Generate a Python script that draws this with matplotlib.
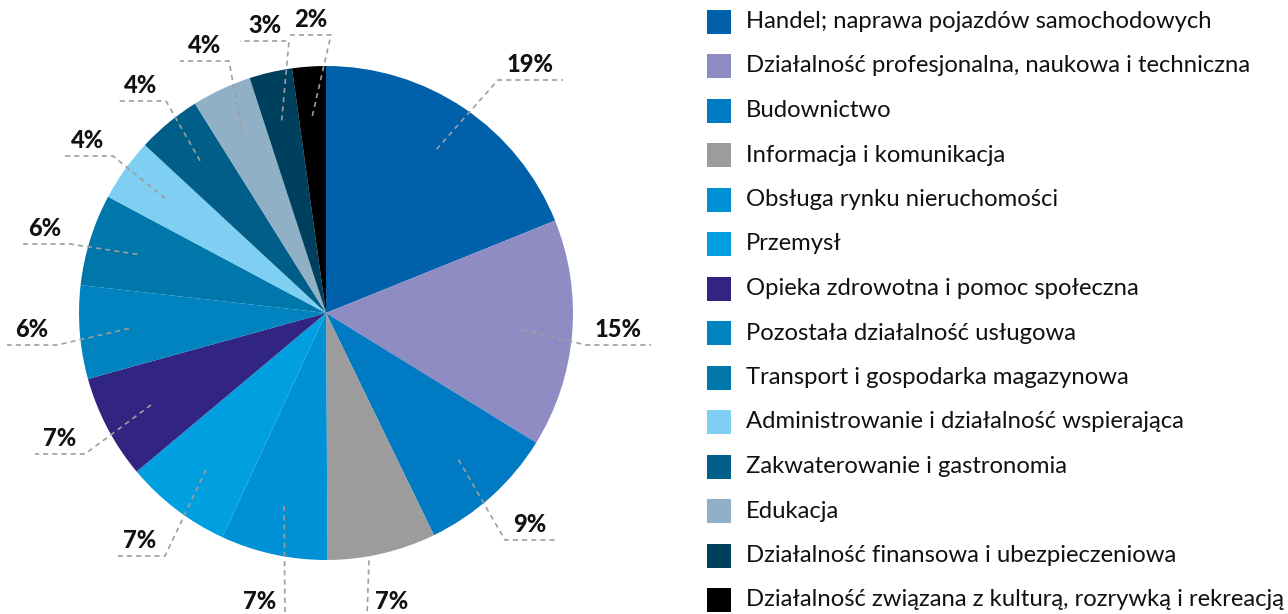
import matplotlib.pyplot as plt
from matplotlib.patches import Rectangle
import numpy as np

W, H = 1288, 614

sectors = [
    'Handel; naprawa pojazdów samochodowych',
    'Działalność profesjonalna, naukowa i techniczna',
    'Budownictwo',
    'Informacja i komunikacja',
    'Obsługa rynku nieruchomości',
    'Przemysł',
    'Opieka zdrowotna i pomoc społeczna',
    'Pozostała działalność usługowa',
    'Transport i gospodarka magazynowa',
    'Administrowanie i działalność wspierająca',
    'Zakwaterowanie i gastronomia',
    'Edukacja',
    'Działalność finansowa i ubezpieczeniowa',
    'Działalność związana z kulturą, rozrywką i rekreacją',
]
shares = [18.9, 14.9, 9.0, 7.1, 7.0, 7.0, 6.8, 6.1, 6.0, 4.1, 4.2, 3.9, 2.8, 2.2]
pct_labels = ['19%', '15%', '9%', '7%', '7%', '7%', '7%', '6%', '6%', '4%', '4%', '4%', '3%', '2%']

colors = ['#0060aa', '#8f8cc4', '#007ac2', '#9c9c9c', '#0090d5', '#009fe0', '#312581',
          '#0083bf', '#0077aa', '#7fcff3', '#005e88', '#8fb0c5', '#00405f', '#000000']

# label layout in pixels (x, y from top): elbow of the leader and length of the underline
elbows = [(498, 80), (586, 345), (505, 540), (367, 617), (285, 617), (165, 556), (85, 454),
          (57, 345), (70, 244), (113, 156), (166, 101), (229, 61), (289, 41), (331, 35)]
under_dir = [1, 1, 1, 1, -1, -1, -1, -1, -1, -1, -1, -1, -1, -1]
under_len = [65, 65, 50, 50, 50, 50, 50, 50, 50, 50, 50, 49, 49, 41]

CX, CY, R = 326, 313, 247

plt.rcParams['font.family'] = ['Lato', 'DejaVu Sans']

fig = plt.figure(figsize=(W / 100, H / 100), dpi=100)
ax = fig.add_axes([0, 0, 1, 1])

wedges, _ = ax.pie(shares, colors=colors, startangle=90, counterclock=False,
                   center=(CX, H - CY), radius=R, wedgeprops=dict(linewidth=0))

ax.set_xlim(0, W)
ax.set_ylim(0, H)
ax.set_aspect('equal')
ax.axis('off')

line_style = dict(color='#9e9e9e', linestyle=(0, (3, 2.5)), linewidth=1.2, zorder=3)

for w, (ex, ey), d, ln, lab in zip(wedges, elbows, under_dir, under_len, pct_labels):
    mid = np.deg2rad((w.theta1 + w.theta2) / 2)
    ix = CX + 0.8 * R * np.cos(mid)
    iy = (H - CY) + 0.8 * R * np.sin(mid)
    ey = H - ey
    ax.plot([ix, ex, ex + d * ln], [iy, ey, ey], **line_style)
    ax.text(ex + d * ln / 2, ey + 4, lab, ha='center', va='bottom',
            fontsize=17, fontweight='black', color='#111111', zorder=4)

# legend
for i, (name, c) in enumerate(zip(sectors, colors)):
    yc = H - (21.5 + i * 44.5)
    ax.add_patch(Rectangle((707, yc - 12), 24, 24, facecolor=c, edgecolor='none'))
    ax.text(746, yc, name, ha='left', va='center', fontsize=17.2, color='#111111')

fig.savefig('out.png', dpi=100, facecolor='white')
